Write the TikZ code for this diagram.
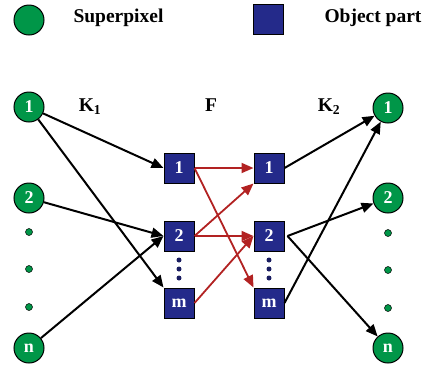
\documentclass[tikz,border=0pt]{standalone}
\usepackage{fontspec}
\setmainfont{Liberation Serif}
\usetikzlibrary{arrows.meta}
\definecolor{spgreen}{RGB}{0,150,72}
\definecolor{opblue}{RGB}{36,42,138}
\definecolor{fred}{RGB}{178,34,34}
\begin{document}
\begin{tikzpicture}[x=1pt,y=-1pt,
  sp/.style={circle,draw=black,line width=1pt,fill=spgreen,minimum size=30pt,inner sep=0pt,text=white,font=\fontsize{18}{18}\selectfont\bfseries},
  op/.style={rectangle,draw=black,line width=1pt,fill=opblue,minimum size=30pt,inner sep=0pt,text=white,font=\fontsize{18}{18}\selectfont\bfseries},
  gdot/.style={circle,draw=black,line width=0.5pt,fill=spgreen,minimum size=7pt,inner sep=0pt},
  bdot/.style={circle,fill=opblue!70!black,minimum size=5pt,inner sep=0pt},
  lbl/.style={font=\fontsize{19.5}{19.5}\selectfont\bfseries},
  blk/.style={draw=black,line width=2pt,-{Triangle[length=12pt,width=10pt]}},
  redarr/.style={draw=fred,line width=1.8pt,-{Triangle[length=12pt,width=10pt]}}]
\useasboundingbox (0,0) rectangle (426,368);
% legend
\node[sp] (legc) at (29,20) {};
\node[lbl,anchor=west] (legct) at (70,18) {Superpixel};
\node[op] (legs) at (268.5,19) {};
\node[lbl,anchor=west] (legst) at (321,18) {Object part};
% left circles
\node[sp] (l1) at (29,107) {1};
\node[sp] (l2) at (29,198) {2};
\node[gdot] (ld1) at (29,232) {};
\node[gdot] (ld2) at (29,269) {};
\node[gdot] (ld3) at (29,307) {};
\node[sp] (ln) at (29,348) {n};
% left boxes
\node[op] (a1) at (179,168) {1};
\node[op] (a2) at (179,236) {2};
\node[bdot] (ad1) at (179,260) {};
\node[bdot] (ad2) at (179,269) {};
\node[bdot] (ad3) at (179,278) {};
\node[op] (am) at (179,303) {m};
% right boxes
\node[op] (b1) at (269,168) {1};
\node[op] (b2) at (269,236) {2};
\node[bdot] (bd1) at (269,260) {};
\node[bdot] (bd2) at (269,269) {};
\node[bdot] (bd3) at (269,278) {};
\node[op] (bm) at (269,303) {m};
% right circles
\node[sp] (r1) at (388,108) {1};
\node[sp] (r2) at (388,198) {2};
\node[gdot] (rd1) at (388,233) {};
\node[gdot] (rd2) at (388,270) {};
\node[gdot] (rd3) at (388,308) {};
\node[sp] (rn) at (388,348) {n};
% labels
\node[lbl] (k1) at (90,107) {K$_{\mathbf{1}}$};
\node[lbl] (f) at (211,105) {F};
\node[lbl] (k2) at (329,107) {K$_{\mathbf{2}}$};
% left arrows
\draw[blk] (l1) -- (a1.west);
\draw[blk] (l1) -- (am.north west);
\draw[blk] (l2) -- (a2.west);
\draw[blk] (ln) -- (a2.west);
% middle arrows
\draw[redarr] (a1.east) -- (b1.west);
\draw[redarr] (a1.east) -- (bm.north west);
\draw[redarr] (a2.east) -- (b1.south west);
\draw[redarr] (a2.east) -- (b2.west);
\draw[redarr] (am.east) -- (b2.west);
% right arrows
\draw[blk] (b1.east) -- (r1);
\draw[blk] (bm.east) -- (r1);
\draw[blk] ([xshift=3pt]b2.east) -- (r2);
\draw[blk] ([xshift=3pt]b2.east) -- (rn);
\end{tikzpicture}
\end{document}
